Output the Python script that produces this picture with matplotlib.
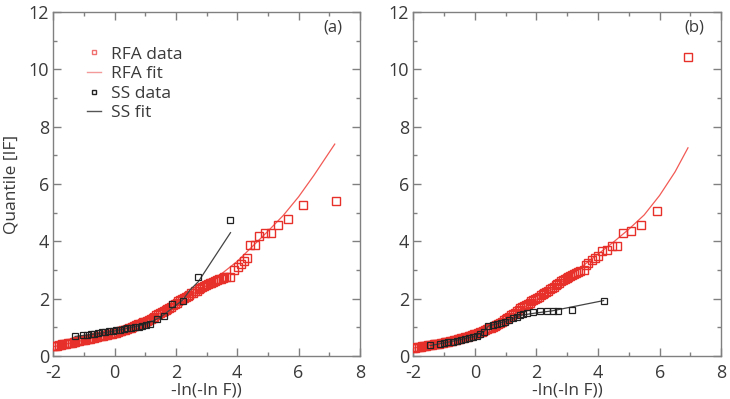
import matplotlib
matplotlib.use("Agg")
import matplotlib.pyplot as plt
from matplotlib.ticker import MultipleLocator
from matplotlib.lines import Line2D

plt.rcParams['font.family'] = ['Open Sans', 'DejaVu Sans']
plt.rcParams['axes.unicode_minus'] = False

# ---------------- Panel (a) ----------------
rfa_a_x = [-2.00, -1.94, -1.88, -1.82, -1.76, -1.70, -1.64, -1.58, -1.52, -1.46, -1.40, -1.34,
           -1.28, -1.22, -1.16, -1.10, -1.04, -0.98, -0.92, -0.86, -0.80, -0.74, -0.68, -0.62,
           -0.56, -0.50, -0.44, -0.38, -0.32, -0.26, -0.20, -0.14, -0.08, -0.02, 0.04, 0.10,
           0.16, 0.22, 0.28, 0.34, 0.40, 0.46, 0.52, 0.58, 0.64, 0.70, 0.76, 0.82, 0.88, 0.94,
           1.00, 1.06, 1.12, 1.18, 1.24, 1.30, 1.36, 1.42, 1.48, 1.54, 1.60, 1.66, 1.72, 1.78,
           1.84, 1.90, 1.96, 2.02, 2.08, 2.14, 2.20, 2.26, 2.32, 2.38, 2.44, 2.50, 2.56, 2.62,
           2.68, 2.74, 2.80, 2.86, 2.92, 2.98, 3.04, 3.10, 3.16, 3.22, 3.28, 3.34, 3.40, 3.46,
           3.52, 3.58, 3.64,
           3.76, 3.91, 4.01, 4.11, 4.23, 4.33, 4.43, 4.59, 4.70, 4.90, 5.09, 5.34, 5.65, 6.15, 7.21]
rfa_a_y = [0.33, 0.34, 0.35, 0.37, 0.38, 0.40, 0.41, 0.43, 0.44, 0.45, 0.46, 0.48,
           0.49, 0.51, 0.52, 0.54, 0.55, 0.57, 0.58, 0.59, 0.60, 0.62, 0.63, 0.65,
           0.66, 0.68, 0.69, 0.71, 0.72, 0.74, 0.75, 0.77, 0.78, 0.80, 0.81, 0.84,
           0.86, 0.88, 0.90, 0.92, 0.94, 0.97, 0.99, 1.02, 1.05, 1.08, 1.10, 1.13, 1.15, 1.18,
           1.20, 1.23, 1.26, 1.30, 1.33, 1.37, 1.41, 1.45, 1.49, 1.53, 1.56, 1.60, 1.64, 1.68,
           1.72, 1.77, 1.82, 1.86, 1.90, 1.94, 1.97, 2.01, 2.05, 2.10, 2.14, 2.18, 2.21, 2.25,
           2.28, 2.32, 2.36, 2.40, 2.43, 2.47, 2.50, 2.53, 2.56, 2.59, 2.62, 2.65, 2.67, 2.70,
           2.72, 2.74, 2.75,
           2.77, 3.00, 3.10, 3.21, 3.31, 3.42, 3.87, 3.87, 4.20, 4.29, 4.28, 4.58, 4.76, 5.27, 5.41]
rfa_a_fit_x = [-2.0, -1.0, 0.0, 1.0, 2.0, 3.0, 4.0, 5.0, 5.5, 6.0, 6.5, 7.18]
rfa_a_fit_y = [0.32, 0.55, 0.82, 1.20, 1.80, 2.45, 3.30, 4.35, 4.90, 5.55, 6.30, 7.39]

ss_a_x = [-1.29, -1.02, -0.90, -0.78, -0.66, -0.54, -0.42, -0.30, -0.18, -0.06, 0.06, 0.18,
          0.30, 0.42, 0.54, 0.66, 0.78, 0.90, 1.02, 1.15, 1.37, 1.61, 1.86, 2.22, 2.73, 3.76]
ss_a_y = [0.70, 0.72, 0.74, 0.76, 0.78, 0.80, 0.82, 0.84, 0.86, 0.88, 0.90, 0.92,
          0.94, 0.96, 0.98, 1.00, 1.02, 1.04, 1.07, 1.12, 1.30, 1.38, 1.80, 1.90, 2.74, 4.75]
ss_a_fit_x = [-1.29, -0.5, 0.0, 0.5, 1.0, 1.5, 1.86, 2.22, 2.46, 2.73, 3.78]
ss_a_fit_y = [0.68, 0.78, 0.87, 0.98, 1.10, 1.35, 1.65, 1.95, 2.30, 2.59, 4.30]

# ---------------- Panel (b) ----------------
rfa_b_x = [-2.00, -1.94, -1.88, -1.82, -1.76, -1.70, -1.64, -1.58, -1.52, -1.46, -1.40, -1.34,
           -1.28, -1.22, -1.16, -1.10, -1.04, -0.98, -0.92, -0.86, -0.80, -0.74, -0.68, -0.62,
           -0.56, -0.50, -0.44, -0.38, -0.32, -0.26, -0.20, -0.14, -0.08, -0.02, 0.04, 0.10,
           0.16, 0.22, 0.28, 0.34, 0.40, 0.46, 0.52, 0.58, 0.64, 0.70, 0.76, 0.82, 0.88, 0.94,
           1.00, 1.06, 1.12, 1.18, 1.24, 1.30, 1.36, 1.42, 1.48, 1.54, 1.60, 1.66, 1.72, 1.78,
           1.84, 1.90, 1.96, 2.02, 2.08, 2.14, 2.20, 2.26, 2.32, 2.38, 2.44, 2.50, 2.56, 2.62,
           2.68, 2.74, 2.80, 2.86, 2.92, 2.98, 3.04, 3.10, 3.16, 3.22, 3.28, 3.34, 3.40,
           3.53, 3.60, 3.69, 3.80, 3.90, 4.01, 4.14, 4.28, 4.45, 4.63, 4.80, 5.06, 5.40, 5.91, 6.92]
rfa_b_y = [0.28, 0.29, 0.30, 0.31, 0.32, 0.33, 0.34, 0.35, 0.37, 0.38, 0.39, 0.40,
           0.41, 0.42, 0.43, 0.45, 0.46, 0.47, 0.49, 0.50, 0.52, 0.53, 0.55, 0.56,
           0.58, 0.60, 0.62, 0.63, 0.65, 0.67, 0.69, 0.70, 0.72, 0.75, 0.77, 0.80,
           0.82, 0.85, 0.87, 0.90, 0.93, 0.96, 0.99, 1.02, 1.06, 1.09, 1.13, 1.16, 1.20, 1.24,
           1.28, 1.32, 1.37, 1.41, 1.46, 1.51, 1.56, 1.61, 1.66, 1.70, 1.74, 1.78, 1.82, 1.86,
           1.90, 1.95, 1.99, 2.03, 2.07, 2.11, 2.15, 2.19, 2.24, 2.28, 2.33, 2.37, 2.42, 2.46,
           2.51, 2.55, 2.60, 2.64, 2.69, 2.73, 2.77, 2.80, 2.84, 2.87, 2.90, 2.93, 2.96,
           3.00, 3.16, 3.24, 3.35, 3.42, 3.50, 3.65, 3.68, 3.85, 3.85, 4.29, 4.37, 4.57, 5.04, 10.42]
rfa_b_fit_x = [-2.0, -1.0, 0.0, 1.0, 2.0, 3.0, 4.0, 4.5, 5.0, 5.5, 6.0, 6.5, 6.92]
rfa_b_fit_y = [0.27, 0.50, 0.80, 1.28, 1.95, 2.72, 3.55, 3.97, 4.42, 4.92, 5.60, 6.42, 7.26]

ss_b_x = [-1.45, -1.14, -1.00, -0.86, -0.72, -0.59, -0.46, -0.33, -0.20, -0.07, 0.06, 0.18,
          0.30, 0.44, 0.58, 0.71, 0.84, 0.97, 1.10, 1.23, 1.36, 1.47, 1.58, 1.69, 1.90, 2.12,
          2.34, 2.55, 2.71, 3.15, 4.18]
ss_b_y = [0.37, 0.43, 0.45, 0.47, 0.50, 0.53, 0.56, 0.60, 0.63, 0.66, 0.70, 0.78,
          0.85, 1.06, 1.09, 1.11, 1.15, 1.20, 1.26, 1.31, 1.37, 1.43, 1.46, 1.49, 1.53, 1.55,
          1.56, 1.57, 1.58, 1.60, 1.93]
ss_b_fit_x = [-1.45, -1.0, -0.5, 0.0, 0.3, 0.44, 1.0, 1.5, 2.0, 2.5, 4.18]
ss_b_fit_y = [0.36, 0.45, 0.56, 0.68, 0.85, 1.04, 1.20, 1.42, 1.50, 1.57, 1.93]

legend_labels = ["RFA data", "RFA fit", "SS data", "SS fit"]
panel_labels = ["(a)", "(b)"]
x_label = "-ln(-ln F))"
y_label = "Quantile [IF]"

RED = '#e8302a'
RED_FIT = '#f25a55'
BLACK = '#222222'
GRAY = '#808080'
TXT = '#3a3a3a'

fig = plt.figure(figsize=(7.30, 3.99), dpi=100)
ax_a = fig.add_axes([0.073, 0.108, 0.420, 0.862])
ax_b = fig.add_axes([0.566, 0.108, 0.422, 0.862])

panels = [
    (ax_a, rfa_a_x, rfa_a_y, rfa_a_fit_x, rfa_a_fit_y, ss_a_x, ss_a_y, ss_a_fit_x, ss_a_fit_y),
    (ax_b, rfa_b_x, rfa_b_y, rfa_b_fit_x, rfa_b_fit_y, ss_b_x, ss_b_y, ss_b_fit_x, ss_b_fit_y),
]

for i, (ax, rx, ry, rfx, rfy, sx, sy, sfx, sfy) in enumerate(panels):
    ax.plot(rfx, rfy, color=RED_FIT, lw=0.9, zorder=2)
    ax.plot(sfx, sfy, color='#444444', lw=0.9, zorder=4)
    ax.plot(rx, ry, ls='none', marker='s', ms=5.3, mfc='none', mec=RED, mew=1.0, zorder=3)
    ax.plot(sx, sy, ls='none', marker='s', ms=4.6, mfc='none', mec=BLACK, mew=0.9, zorder=5)
    ax.set_xlim(-2, 8)
    ax.set_ylim(0, 12)
    ax.xaxis.set_major_locator(MultipleLocator(2))
    ax.xaxis.set_minor_locator(MultipleLocator(1))
    ax.yaxis.set_major_locator(MultipleLocator(2))
    ax.yaxis.set_minor_locator(MultipleLocator(1))
    ax.tick_params(which='both', direction='in', top=True, right=True, color=GRAY,
                   labelcolor=TXT, labelsize=13, width=1)
    ax.tick_params(which='major', length=6)
    ax.tick_params(which='minor', length=3)
    ax.tick_params(axis='x', which='major', pad=6)
    ax.tick_params(axis='y', which='major', pad=3)
    for s in ax.spines.values():
        s.set_color(GRAY)
        s.set_linewidth(1.0)
    ax.set_xlabel(x_label, fontsize=12.5, color=TXT, labelpad=0.5)
    ax.text(7.12, 11.47, panel_labels[i], fontsize=12, color=TXT, ha='center', va='center')

ax_a.set_ylabel(y_label, fontsize=12.5, color=TXT)
ax_a.yaxis.set_label_coords(-0.11, 0.5)

handles = [
    Line2D([], [], ls='none', marker='s', ms=3.5, mfc='none', mec='#f07070', mew=1.0),
    Line2D([], [], color='#f49a9a', lw=1.0),
    Line2D([], [], ls='none', marker='s', ms=3.5, mfc='none', mec=BLACK, mew=1.0),
    Line2D([], [], color='#555555', lw=1.0),
]
leg = ax_a.legend(handles, legend_labels, loc='upper left', bbox_to_anchor=(0.11, 0.9),
                  frameon=False, fontsize=12.5, handlelength=0.8, handletextpad=0.6,
                  labelspacing=0.2, borderaxespad=0, borderpad=0)
for t in leg.get_texts():
    t.set_color(TXT)

fig.savefig('out.png', dpi=100)
